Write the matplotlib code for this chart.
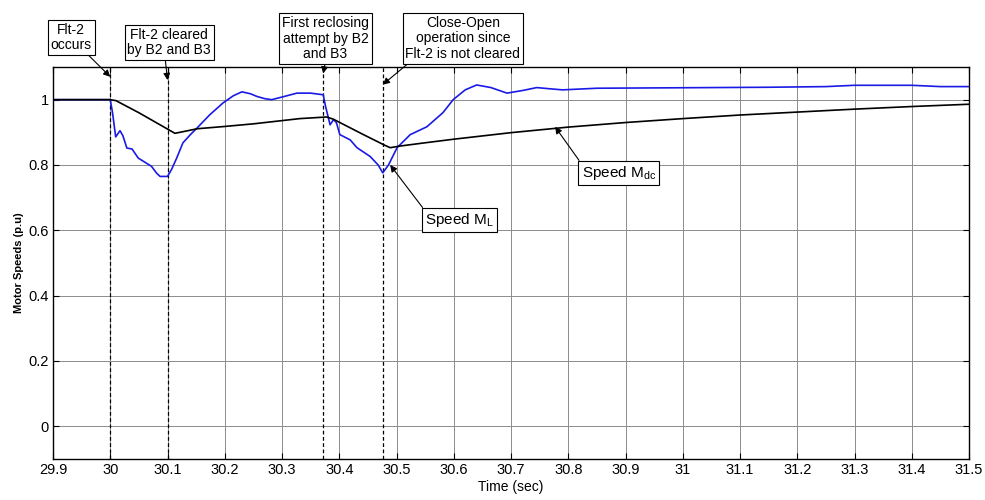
import matplotlib
matplotlib.use("Agg")
import matplotlib.pyplot as plt

plt.rcParams['font.family'] = ['Liberation Sans', 'DejaVu Sans']

# speed of motor M_L (blue)
t_ml = [29.9, 30.0, 30.004, 30.0095, 30.017, 30.022, 30.029, 30.038, 30.049, 30.061,
        30.072, 30.081, 30.087, 30.1, 30.107, 30.116, 30.127, 30.14, 30.152, 30.174,
        30.197, 30.215, 30.23, 30.245, 30.256, 30.27, 30.282, 30.3, 30.326, 30.35,
        30.372, 30.376, 30.384, 30.39, 30.395, 30.401, 30.419, 30.431, 30.454, 30.468,
        30.476, 30.486, 30.501, 30.524, 30.553, 30.581, 30.599, 30.62, 30.64, 30.665,
        30.693, 30.72, 30.745, 30.77, 30.79, 30.85, 30.95, 31.05, 31.15, 31.25,
        31.3, 31.4, 31.45, 31.5]
v_ml = [1.0, 1.0, 0.96, 0.886, 0.905, 0.89, 0.852, 0.849, 0.821, 0.808,
        0.796, 0.775, 0.765, 0.765, 0.786, 0.821, 0.868, 0.893, 0.914, 0.954,
        0.99, 1.012, 1.024, 1.018, 1.01, 1.003, 1.0, 1.008, 1.02, 1.02,
        1.015, 0.98, 0.923, 0.939, 0.93, 0.893, 0.877, 0.853, 0.826, 0.80,
        0.776, 0.80, 0.853, 0.893, 0.917, 0.96, 1.0, 1.03, 1.045, 1.037,
        1.02, 1.028, 1.037, 1.033, 1.03, 1.035, 1.036, 1.037, 1.038, 1.04,
        1.044, 1.044, 1.04, 1.04]

# speed of motor M_dc (black)
t_mdc = [29.9, 30.0, 30.01, 30.05, 30.1, 30.113, 30.13, 30.152, 30.2, 30.25,
         30.331, 30.378, 30.39, 30.44, 30.48, 30.489, 30.506, 30.55, 30.6, 30.7,
         30.8, 30.9, 31.0, 31.1, 31.2, 31.3, 31.4, 31.5]
v_mdc = [1.0, 1.0, 0.997, 0.96, 0.91, 0.897, 0.903, 0.911, 0.918, 0.926,
         0.942, 0.947, 0.94, 0.895, 0.86, 0.853, 0.858, 0.868, 0.879, 0.899,
         0.916, 0.93, 0.942, 0.953, 0.962, 0.971, 0.979, 0.986]

events = [30.0, 30.1, 30.372, 30.476]
x_ticks = [29.9, 30, 30.1, 30.2, 30.3, 30.4, 30.5, 30.6, 30.7, 30.8, 30.9,
           31, 31.1, 31.2, 31.3, 31.4, 31.5]
y_ticks = [0, 0.2, 0.4, 0.6, 0.8, 1]

fig = plt.figure(figsize=(9.85, 5), dpi=100)
ax = fig.add_axes([53/985, 41/500, 916/985, 392/500])

ax.plot(t_ml, v_ml, color='#1a1ae6', lw=1.2, zorder=3)
ax.plot(t_mdc, v_mdc, color='black', lw=1.2, zorder=3)
for e in events:
    ax.axvline(e, color='black', ls=(0, (3, 2)), lw=0.9, zorder=2)

ax.set_xlim(29.9, 31.5)
ax.set_ylim(-0.1, 1.1)
ax.set_xticks(x_ticks)
ax.set_xticklabels([f'{v:g}' for v in x_ticks])
ax.set_yticks(y_ticks)
ax.set_yticklabels([f'{v:g}' for v in y_ticks])
ax.grid(True, color='#8c8c8c', lw=0.7)
ax.tick_params(direction='in', top=True, right=True, length=4, labelsize=10.5, pad=3)
for s in ax.spines.values():
    s.set_linewidth(1.0)

ax.set_xlabel('Time (sec)', fontsize=10, labelpad=2)
ax.set_ylabel('Motor Speeds (p.u)', fontsize=8, fontweight='bold', labelpad=3)

box = dict(boxstyle='square,pad=0.2', fc='white', ec='black', lw=0.8)

def note(txt, xy, xytext, rel=(0.5, 0.5), size=10):
    ax.annotate(txt, xy=xy, xytext=xytext, ha='center', va='center',
                fontsize=size, bbox=box, linespacing=1.15,
                annotation_clip=False, zorder=5,
                arrowprops=dict(arrowstyle='-|>', color='black', lw=0.8,
                                mutation_scale=10, relpos=rel,
                                shrinkA=0, shrinkB=0))

note('Flt-2\noccurs', (30.0, 1.07), (29.932, 1.19), rel=(0.85, 0))
note('Flt-2 cleared\nby B2 and B3', (30.1, 1.06), (30.103, 1.175), rel=(0.45, 0))
note('First reclosing\nattempt by B2\nand B3', (30.372, 1.08), (30.376, 1.187), rel=(0.5, 0))
note('Close-Open\noperation since\nFlt-2 is not cleared', (30.476, 1.046), (30.616, 1.188),
     rel=(0.05, 0))
note('Speed M$_\\mathregular{L}$', (30.489, 0.80), (30.61, 0.632), rel=(0.0, 1.0), size=11)
note('Speed M$_\\mathregular{dc}$', (30.777, 0.917), (30.888, 0.776), rel=(0.0, 1.0), size=11)

fig.savefig('out.png', dpi=100)
